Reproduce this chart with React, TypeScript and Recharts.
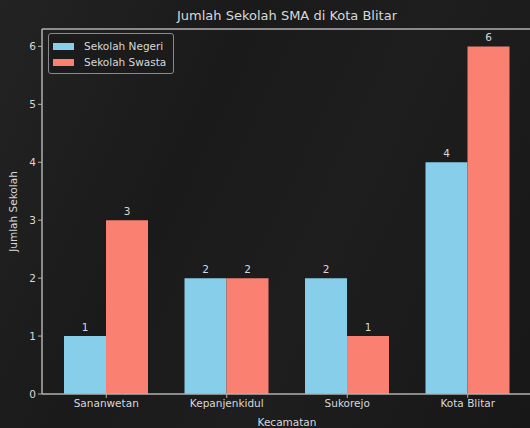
import { Bar, BarChart, LabelList, Legend, ReferenceLine, XAxis, YAxis } from "recharts";

const kecamatan = ["Sananwetan", "Kepanjenkidul", "Sukorejo", "Kota Blitar"];
const sekolahNegeri = [1, 2, 2, 4];
const sekolahSwasta = [3, 2, 1, 6];
const yTicks = [0, 1, 2, 3, 4, 5, 6];

const data = kecamatan.map((name, i) => ({
  name,
  negeri: sekolahNegeri[i],
  swasta: sekolahSwasta[i],
}));

const FONT = "'DejaVu Sans', sans-serif";
const TEXT = "#d8d8d8";
const SPINE = "#b0b0b0";

function LegendBox({ payload }: any) {
  return (
    <div
      style={{
        border: "1.5px solid #8a8a8a",
        borderRadius: 3,
        background: "#1b1b1b",
        padding: "4px 7px 3px 4px",
        fontFamily: FONT,
        fontSize: 10.5,
        color: TEXT,
      }}
    >
      {(payload || []).map((p: any) => (
        <div key={p.value} style={{ display: "flex", alignItems: "center", height: 16 }}>
          <span style={{ width: 21, height: 7, background: p.color, marginRight: 10 }} />
          {p.value}
        </div>
      ))}
    </div>
  );
}

export default function App() {
  return (
    <div
      style={{
        position: "absolute",
        left: 0,
        top: 0,
        width: 530,
        height: 428,
        overflow: "hidden",
        background: "linear-gradient(115deg, #232323 0%, #1a1a1a 35%, #1e1e1e 60%, #171717 100%)",
        fontFamily: FONT,
      }}
    >
      <div
        style={{
          position: "absolute",
          top: 8,
          left: 42,
          width: 490,
          textAlign: "center",
          color: TEXT,
          fontSize: 13,
        }}
      >
        Jumlah Sekolah SMA di Kota Blitar
      </div>
      <BarChart
        width={545}
        height={428}
        data={data}
        margin={{ top: 29, right: 13, bottom: 0, left: 0 }}
        barCategoryGap={18}
        barGap={0}
      >
        <XAxis
          dataKey="name"
          height={34}
          padding={{ left: 4, right: 4 }}
          axisLine={{ stroke: SPINE, strokeWidth: 1.5 }}
          tickLine={{ stroke: SPINE }}
          tickSize={4}
          tick={{ fill: TEXT, fontSize: 10.5, fontFamily: FONT }}
          label={{ value: "Kecamatan", position: "insideBottom", offset: 2, fill: TEXT, fontSize: 10.5, fontFamily: FONT }}
        />
        <YAxis
          width={42}
          domain={[0, 6.3]}
          ticks={yTicks}
          allowDataOverflow
          axisLine={{ stroke: SPINE, strokeWidth: 1.5 }}
          tickLine={{ stroke: SPINE }}
          tickSize={4}
          tick={{ fill: TEXT, fontSize: 10.5, fontFamily: FONT }}
          label={{
            value: "Jumlah Sekolah",
            angle: -90,
            position: "insideLeft",
            offset: 13,
            fill: TEXT,
            fontSize: 10.5,
            fontFamily: FONT,
            style: { textAnchor: "middle" },
          }}
        />
        <ReferenceLine y={6.3} stroke={SPINE} strokeWidth={1.5} />
        <Legend
          layout="vertical"
          align="center"
          verticalAlign="middle"
          content={<LegendBox />}
          wrapperStyle={{ top: 33, left: 48, width: "auto" }}
        />
        <Bar dataKey="negeri" name="Sekolah Negeri" fill="#87ceeb" isAnimationActive={false}>
          <LabelList dataKey="negeri" position="top" offset={5} fill={TEXT} fontSize={10.5} fontFamily={FONT} />
        </Bar>
        <Bar dataKey="swasta" name="Sekolah Swasta" fill="#fa8072" isAnimationActive={false}>
          <LabelList dataKey="swasta" position="top" offset={5} fill={TEXT} fontSize={10.5} fontFamily={FONT} />
        </Bar>
      </BarChart>
    </div>
  );
}
